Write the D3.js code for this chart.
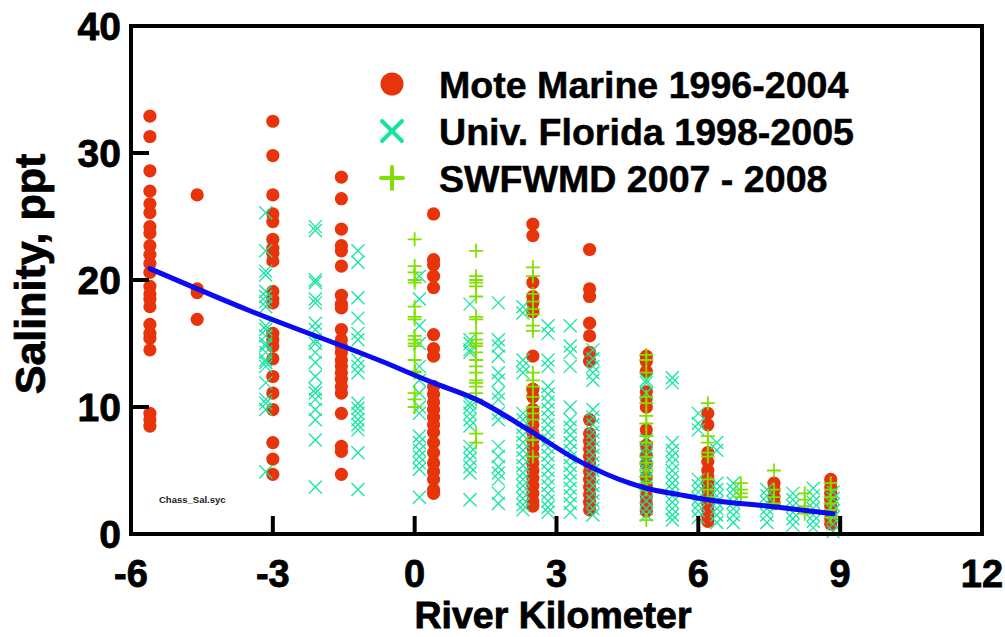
<!DOCTYPE html>
<html><head><meta charset="utf-8">
<script src="https://cdn.jsdelivr.net/npm/d3@7"></script>
<style>body{margin:0;background:#fff}svg{display:block}text{font-family:"Liberation Sans",Arial,sans-serif;font-weight:bold}</style>
</head><body><svg id="c" width="1005" height="637"></svg>
<script>
// ---- data (river km, salinity ppt) ----
const xTicks = [-6, -3, 0, 3, 6, 9, 12];
const yTicks = [0, 10, 20, 30, 40];
const seriesNames = ["Mote Marine 1996-2004", "Univ. Florida 1998-2005", "SWFWMD 2007 - 2008"];
const moteMarine = [
  [-5.6, [32.9,31.3,28.6,27.0,26.0,25.3,24.2,23.7,22.7,22.0,21.3,20.6,19.5,18.9,18.5,17.9,16.5,15.8,15.4,14.5,9.5,9.0,8.5]],
  [-4.6, [26.7,19.3,19.0,16.9]],
  [-3.0, [32.5,29.8,26.7,25.2,24.6,23.2,22.5,22.1,21.5,19.1,18.5,18.2,15.8,15.3,14.8,13.8,12.4,11.1,9.8,7.2,5.9,4.7]],
  [-1.55, [28.1,26.4,24.0,22.7,22.3,21.1,18.8,18.1,17.8,16.1,15.3,14.8,14.3,13.7,13.2,12.7,12.2,11.6,11.1,9.5,6.9,6.5,4.7]],
  [0.4, [25.2,21.6,21.2,20.3,19.4,15.7,14.6,14.0,11.6,11.0,10.4,9.8,9.2,8.6,8.0,7.2,6.4,5.6,4.9,4.3,3.5,3.2]],
  [2.5, [24.4,23.5,19.8,18.7,18.2,17.5,14.0,11.4,10.8,9.8,9.2,8.6,8.0,7.4,6.8,6.2,5.6,5.0,4.4,3.8,3.2,2.6,2.2]],
  [3.7, [22.4,19.3,18.7,16.6,15.6,14.3,13.6,9.0,7.9,7.3,6.7,6.1,5.5,4.9,4.3,3.7,3.1,2.5,1.9]],
  [4.9, [14.0,13.6,12.8,11.2,10.7,10.0,8.2,7.0,6.2,5.5,4.5,3.8,3.0,2.4,1.8]],
  [6.2, [9.5,8.6,6.4,5.7,5.0,4.5,4.0,3.5,2.9,2.4,1.9,1.4,1.0]],
  [7.6, [4.0,3.5,2.9,2.4]],
  [8.8, [4.3,3.7,3.2,2.7,2.2,1.7,1.2,0.8]]
];
const univFlorida = [
  [-3.15, [25.3,22.3,20.7,20.4,19.1,18.7,18.3,17.9,16.4,16.1,15.6,15.0,14.8,14.3,13.7,13.5,13.2,11.9,10.6,10.3,9.8,4.9]],
  [-2.1, [24.2,23.9,20.0,19.8,18.5,18.2,16.6,16.1,15.3,15.0,14.3,13.5,12.4,11.4,11.1,10.6,9.8,9.0,7.4,3.7]],
  [-1.2, [22.3,21.4,18.6,17.0,15.8,15.3,13.7,13.2,12.7,10.3,9.9,9.5,9.0,8.6,8.2,6.4,3.5]],
  [0.1, [20.3,18.5,16.4,15.0,13.2,12.1,11.1,10.0,9.5,7.7,7.2,6.6,6.1,5.6,5.1,2.9]],
  [1.17, [18.1,15.3,15.0,14.5,14.3,10.3,10.0,9.5,9.0,8.5,6.9,6.4,5.9,5.3,4.8,2.7]],
  [1.77, [18.2,15.3,14.8,14.0,12.7,12.1,11.1,10.6,9.5,9.0,6.9,6.1,5.3,4.8,4.3,3.2,2.4]],
  [2.29, [17.9,17.4,13.7,13.2,12.7,9.5,9.0,8.4,7.8,7.2,6.6,6.0,5.4,4.8,4.3,3.8,3.3,2.8,2.3,1.9]],
  [2.82, [16.4,15.8,13.7,13.2,11.6,11.0,10.4,9.8,9.2,8.6,8.0,7.4,6.8,6.2,5.6,5.0,4.4,3.8,3.2,2.6,2.1,1.7]],
  [3.29, [16.4,14.8,14.3,13.2,10.0,9.0,8.4,7.8,7.2,6.6,6.0,5.4,4.8,4.2,3.6,3.0,2.4,1.7]],
  [3.77, [14.5,13.8,13.2,12.7,12.1,9.8,9.2,8.6,8.0,7.4,6.8,6.2,5.6,5.0,4.4,3.8,3.2,2.6,2.0,1.5]],
  [4.9, [12.1,11.9,11.1,7.4,6.8,6.2,5.6,5.0,4.4,3.8,3.2,2.6,2.0,1.5]],
  [5.45, [12.3,11.9,7.2,6.6,6.1,5.6,5.0,4.5,4.0,3.5,3.0,2.5,2.0,1.5,1.1]],
  [6.0, [9.5,8.7,8.2,4.3,3.8,3.3,2.8,2.3,1.8,1.3]],
  [6.39, [7.2,6.6,4.0,3.5,3.0,2.5,2.0,1.5,0.9]],
  [6.74, [4.0,3.5,3.0,2.5,2.0,1.5,0.9]],
  [7.45, [3.5,3.0,2.5,2.0,1.5,0.9]],
  [8.0, [3.2,2.7,2.2,1.7,1.2,0.7]],
  [8.43, [3.6,3.0,2.5,2.0,1.5,1.0,0.5]],
  [8.85, [3.3,2.8,2.3,1.8,1.3,0.8,0.2]]
];
const swfwmd = [
  [0.0, [23.2,21.1,20.6,20.0,19.8,17.9,17.1,16.9,15.6,15.3,15.0,14.8,13.7,12.8,12.7,11.1,10.6,10.0]],
  [1.3, [22.3,20.3,20.0,19.8,19.5,18.7,17.1,16.9,15.8,15.3,15.0,14.8,14.3,13.7,13.2,12.7,12.1,11.9,11.6,11.1,10.6,7.9,7.2]],
  [2.5, [21.0,20.3,18.9,18.3,17.7,17.3,16.4,16.0,12.7,12.1,11.6,10.8,10.0,9.5,9.0,7.4,6.1]],
  [4.9, [14.1,13.7,12.7,10.8,10.3,9.3,8.7,7.7,7.2,6.1,5.6,5.0,4.5,4.0,3.5,1.1]],
  [6.2, [10.3,7.7,7.2,6.4,6.1,4.3,3.5,2.9]],
  [6.9, [4.0,3.5,3.2,2.9]],
  [7.6, [5.0,3.5,2.9,2.4]],
  [8.25, [3.2,2.7,2.2,1.6]],
  [8.8, [4.0,3.5,2.9,2.4,1.9,1.3]]
];
const trendKm =  [-5.6, -3.5, -0.7, 0.4, 1.3, 2.45, 3.5, 4.55, 4.9, 5.6, 6.2, 7.6, 8.85];
const trendSal = [20.9, 17.6, 13.6, 11.9, 10.6, 8.1, 5.7, 4.0, 3.6, 3.1, 2.7, 2.15, 1.6];

// ---- drawing ----
const RED = "#e8340a", TEAL = "#14e6a2", LIME = "#80e000";
const svg = d3.select("#c");
const L = 131, R = 982, T = 26, B = 534;
const x = d3.scaleLinear().domain([-6, 12]).range([L, R]);
const y = d3.scaleLinear().domain([0, 40]).range([B, T]);
const flat = s => s.flatMap(([k, vs]) => vs.map(v => ({k, v})));

// Mote circles
svg.append("g").selectAll("circle").data(flat(moteMarine)).join("circle")
  .attr("cx", d => x(d.k)).attr("cy", d => y(d.v)).attr("r", 6.6).attr("fill", RED);
// UF crosses
const cs = 6.5;
svg.append("g").selectAll("path").data(flat(univFlorida)).join("path")
  .attr("d", d => { const cx = x(d.k), cy = y(d.v);
    return `M${cx-cs},${cy-cs}L${cx+cs},${cy+cs}M${cx-cs},${cy+cs}L${cx+cs},${cy-cs}`; })
  .attr("stroke", TEAL).attr("stroke-width", 1.3).attr("fill", "none");
// SWFWMD plus
const ps = 7;
svg.append("g").selectAll("path").data(flat(swfwmd)).join("path")
  .attr("d", d => { const cx = x(d.k), cy = y(d.v);
    return `M${cx-ps},${cy}L${cx+ps},${cy}M${cx},${cy-ps}L${cx},${cy+ps}`; })
  .attr("stroke", LIME).attr("stroke-width", 1.8).attr("fill", "none");

// trend line
svg.append("path").datum(d3.zip(trendKm, trendSal))
  .attr("d", d3.line().x(d => x(d[0])).y(d => y(d[1])).curve(d3.curveMonotoneX))
  .attr("fill", "none").attr("stroke", "#0a0af5").attr("stroke-width", 5).attr("stroke-linecap", "round");

// frame and inner ticks
svg.append("rect").attr("x", L).attr("y", T).attr("width", R - L).attr("height", B - T)
  .attr("fill", "none").attr("stroke", "#000").attr("stroke-width", 4);
const tl = 18;
svg.append("g").selectAll("line").data(xTicks.filter(t => t > -6 && t < 12)).join("line")
  .attr("x1", d => x(d)).attr("x2", d => x(d)).attr("y1", B).attr("y2", B - tl)
  .attr("stroke", "#000").attr("stroke-width", 4);
svg.append("g").selectAll("line").data(yTicks.filter(t => t > 0 && t < 40)).join("line")
  .attr("y1", d => y(d)).attr("y2", d => y(d)).attr("x1", L).attr("x2", L + tl)
  .attr("stroke", "#000").attr("stroke-width", 4);

// tick labels (slightly heavier stroke to mimic the bold face)
const heavy = s => s.attr("stroke", "#000").attr("stroke-width", 0.8);
svg.append("g").selectAll("text").data(xTicks).join("text")
  .attr("x", d => x(d)).attr("y", 587).attr("text-anchor", "middle")
  .attr("font-size", 38).text(d => d).call(heavy);
svg.append("g").selectAll("text").data(yTicks).join("text")
  .attr("x", 121).attr("y", d => y(d) + 14).attr("text-anchor", "end")
  .attr("font-size", 39).text(d => d).call(heavy);

// axis titles
svg.append("text").attr("x", 553).attr("y", 628).attr("text-anchor", "middle")
  .attr("font-size", 36).attr("textLength", 277).attr("lengthAdjust", "spacingAndGlyphs")
  .text("River Kilometer").call(heavy);
svg.append("text").attr("transform", "translate(45,274) rotate(-90)").attr("text-anchor", "middle")
  .attr("font-size", 43).text("Salinity, ppt").call(heavy);

// small file tag
svg.append("text").attr("x", 159).attr("y", 503).attr("font-size", 9.5).attr("fill", "#222").text("Chass_Sal.syc");

// legend
const lg = svg.append("g");
const ly = [84, 131, 178];
lg.append("circle").attr("cx", 392).attr("cy", ly[0]).attr("r", 11.5).attr("fill", RED);
lg.append("path").attr("d", `M${392-10},${ly[1]-10}L${392+10},${ly[1]+10}M${392-10},${ly[1]+10}L${392+10},${ly[1]-10}`)
  .attr("stroke", TEAL).attr("stroke-width", 4).attr("stroke-linecap", "round");
lg.append("path").attr("d", `M${392-11},${ly[2]}L${392+11},${ly[2]}M392,${ly[2]-11}L392,${ly[2]+11}`)
  .attr("stroke", LIME).attr("stroke-width", 4).attr("stroke-linecap", "round");
lg.selectAll("text").data(seriesNames).join("text")
  .attr("x", 439).attr("y", (d, i) => ly[i] + 14).attr("font-size", 37.6).text(d => d)
  .attr("stroke", "#000").attr("stroke-width", 0.5);
</script></body></html>
